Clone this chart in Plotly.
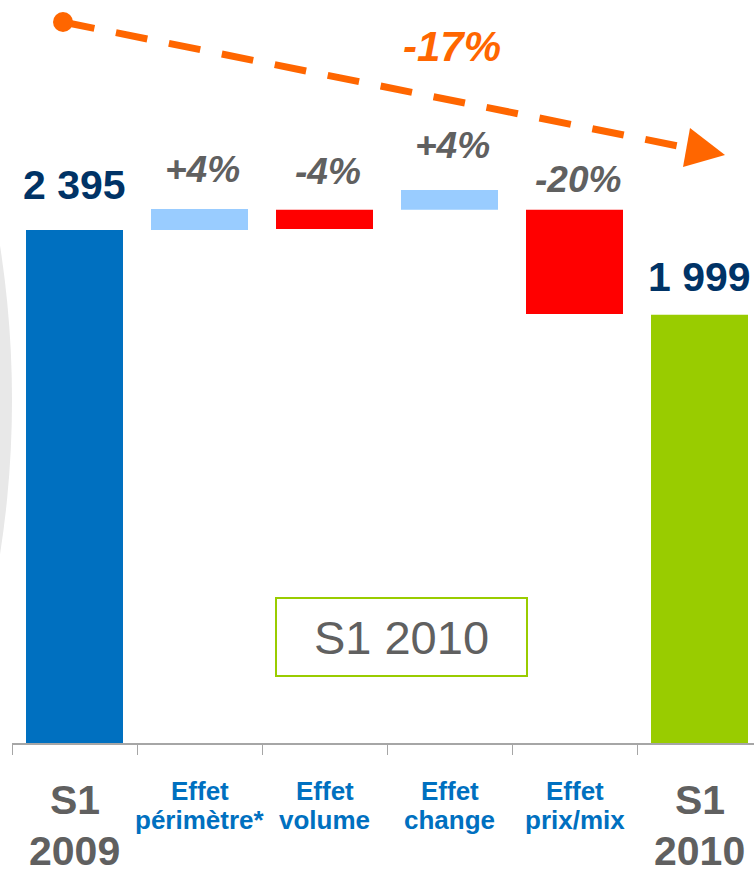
"""
Waterfall of S1 2009 -> S1 2010 sales bridge, rebuilt with Plotly.
"""
import plotly.graph_objects as go

# Bridge data (bar bottoms and tops)
CATEGORIES = ["S1 2009", "Effet périmètre*", "Effet volume", "Effet change", "Effet prix/mix", "S1 2010"]
BAR_BOTTOM = [0, 2395, 2400, 2489, 2003, 0]
BAR_TOP = [2395, 2493, 2489, 2582, 2489, 1999]
BAR_LABELS = ["2 395", "+4%", "-4%", "+4%", "-20%", "1 999"]
TICK_TEXT = ["S1<br>2009", "Effet<br>périmètre*", "Effet<br>volume", "Effet<br>change", "Effet<br>prix/mix", "S1<br>2010"]
TOTAL_CHANGE = "-17%"
PERIOD_BOX = "S1 2010"

# Colours from the slide template
BLUE = "#0070C0"
LIGHT_BLUE = "#99CCFF"
RED = "#FF0000"
GREEN = "#99CC00"
NAVY = "#003366"
GREY = "#606060"
ORANGE = "#FF6600"
BAR_COLORS = [BLUE, LIGHT_BLUE, RED, LIGHT_BLUE, RED, GREEN]
FONT = "Liberation Sans, Arial, sans-serif"

W, H = 754, 872
ML, MB = 12, 129
PLOT_W, PLOT_H = W - ML, H - MB
UNITS_PER_PX = 2395 / 513


def px(x):
    """pixel x -> paper x"""
    return (x - ML) / PLOT_W


def py(y):
    """pixel y -> paper y"""
    return (PLOT_H - y) / PLOT_H


heights = [t - b for t, b in zip(BAR_TOP, BAR_BOTTOM)]

fig = go.Figure(go.Bar(
    x=CATEGORIES,
    y=heights,
    base=BAR_BOTTOM,
    marker=dict(color=BAR_COLORS, line=dict(width=0)),
    width=0.776,
    hoverinfo="skip",
))

# value labels above each bar
label_shift = [45, 40, 38, 44, 30, 38]
for i, (cat, top, txt) in enumerate(zip(CATEGORIES, BAR_TOP, BAR_LABELS)):
    is_total = i in (0, len(CATEGORIES) - 1)
    fig.add_annotation(
        x=cat, y=top, yshift=label_shift[i], xshift=0 if is_total else 3,
        text=f"<b>{txt}</b>" if is_total else f"<b><i>{txt}</i></b>",
        showarrow=False, xanchor="center", yanchor="middle",
        font=dict(family=FONT, size=41 if is_total else 37, color=NAVY if is_total else GREY),
    )

# category labels under the axis, one annotation per line
for i, (cat, txt) in enumerate(zip(CATEGORIES, TICK_TEXT)):
    is_total = i in (0, len(CATEGORIES) - 1)
    line_y = [800, 851] if is_total else [791, 820]
    for line, yy in zip(txt.split("<br>"), line_y):
        fig.add_annotation(
            x=cat, y=py(yy), yref="paper", xanchor="center", yanchor="middle",
            text=f"<b>{line}</b>", showarrow=False,
            font=dict(family=FONT, size=41 if is_total else 26, color=GREY if is_total else BLUE),
        )

# dashed trend arrow with its label
fig.add_shape(type="line", xref="paper", yref="paper",
              x0=px(63), y0=py(22), x1=px(688), y1=py(148),
              line=dict(color=ORANGE, width=7, dash="32px,22px"))
fig.add_shape(type="circle", xref="paper", yref="paper",
              x0=px(53), y0=py(12), x1=px(73), y1=py(32),
              fillcolor=ORANGE, line=dict(width=0))
fig.add_shape(type="path", xref="paper", yref="paper",
              path=f"M {px(725)} {py(155)} L {px(690)} {py(128)} L {px(683)} {py(167)} Z",
              fillcolor=ORANGE, line=dict(width=0))
fig.add_annotation(x=px(452), y=py(47), xref="paper", yref="paper",
                   xanchor="center", yanchor="middle",
                   text=f"<b><i>{TOTAL_CHANGE}</i></b>", showarrow=False,
                   font=dict(family=FONT, size=42, color=ORANGE))

# period box
fig.add_annotation(x=px(401), y=py(637), xref="paper", yref="paper",
                   xanchor="center", yanchor="middle",
                   text=PERIOD_BOX, showarrow=False, width=249, height=76,
                   bordercolor=GREEN, borderwidth=2, borderpad=0,
                   font=dict(family=FONT, size=47, color=GREY))

# faint background arc on the left edge
fig.add_shape(type="circle", xref="paper", yref="paper", layer="below",
              x0=px(-1988), y0=py(1400), x1=px(12), y1=py(-600),
              fillcolor="#E8E8E8", line=dict(width=0))

fig.update_layout(
    width=W, height=H,
    margin=dict(l=ML, r=0, t=0, b=MB),
    plot_bgcolor="rgba(0,0,0,0)",
    paper_bgcolor="white",
    showlegend=False,
    xaxis=dict(
        range=[-0.5, -0.5 + PLOT_W / 125],
        showline=True, linecolor="#A6A6A6", linewidth=1.5,
        ticks="outside", tickson="boundaries", ticklen=10, tickcolor="#A6A6A6", tickwidth=1,
        showticklabels=False, showgrid=False, zeroline=False,
    ),
    yaxis=dict(range=[0, PLOT_H * UNITS_PER_PX], visible=False),
)

# drop the default page margin so the figure sits flush in the window
fig.write_html("out.html", config={"displayModeBar": False},
               post_script="document.body.style.margin='0';")
